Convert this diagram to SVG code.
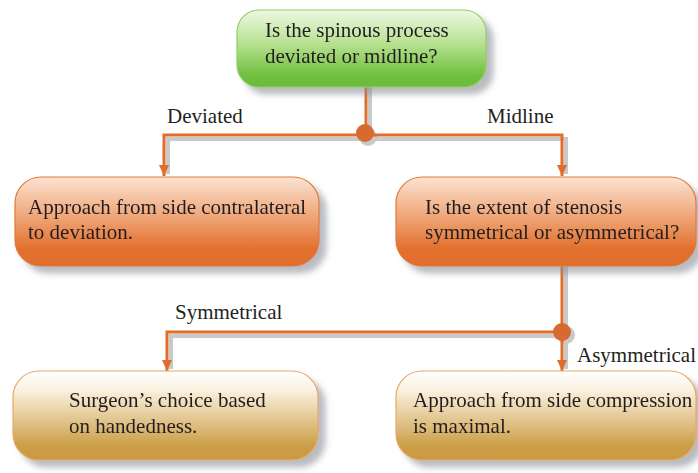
<svg xmlns="http://www.w3.org/2000/svg" width="698" height="473" viewBox="0 0 698 473">
<defs>
<linearGradient id="gGreen" x1="0" y1="0" x2="0" y2="1">
<stop offset="0" stop-color="#eef8e4"/>
<stop offset="0.45" stop-color="#b5e08e"/>
<stop offset="0.85" stop-color="#70bf40"/>
<stop offset="1" stop-color="#6bbb3a"/>
</linearGradient>
<linearGradient id="gOrange" x1="0" y1="0" x2="0" y2="1">
<stop offset="0" stop-color="#fbe3d2"/>
<stop offset="0.45" stop-color="#efa577"/>
<stop offset="0.8" stop-color="#e2712f"/>
<stop offset="1" stop-color="#e06d2c"/>
</linearGradient>
<linearGradient id="gGold" x1="0" y1="0" x2="0" y2="1">
<stop offset="0" stop-color="#ffffff"/>
<stop offset="0.2" stop-color="#fbf3e2"/>
<stop offset="0.55" stop-color="#e2c58e"/>
<stop offset="0.85" stop-color="#cb9d45"/>
<stop offset="1" stop-color="#c99a42"/>
</linearGradient>
<filter id="shadow" x="-10%" y="-10%" width="125%" height="135%">
<feGaussianBlur in="SourceAlpha" stdDeviation="3"/>
<feOffset dx="7" dy="7" result="b"/>
<feFlood flood-color="#8a8f96" flood-opacity="0.6"/>
<feComposite in2="b" operator="in" result="s"/>
<feMerge><feMergeNode in="s"/><feMergeNode in="SourceGraphic"/></feMerge>
</filter>
<marker id="arrow" markerUnits="userSpaceOnUse" markerWidth="12" markerHeight="10" refX="11" refY="5" orient="auto" viewBox="0 0 12 10">
<path d="M0,0 L11,5 L0,10 Z" fill="#df6d2b"/>
</marker>
<marker id="arrowS" markerUnits="userSpaceOnUse" markerWidth="12" markerHeight="10" refX="11" refY="5" orient="auto" viewBox="0 0 12 10">
<path d="M0,0 L11,5 L0,10 Z" fill="#c9c9c9"/>
</marker>
</defs>
<style>
text { font-family: "Liberation Serif", "Times New Roman", serif; font-size: 21px; fill: #231f20; }
.box { stroke-width: 1.2; }
.green { fill: url(#gGreen); stroke: #8fcf62; }
.orange { fill: url(#gOrange); stroke: #e07a3a; }
.gold { fill: url(#gGold); stroke: #eba767; }
.conn { fill: none; stroke: #df6d2b; stroke-width: 3; }
.connS { fill: none; stroke: #c9c9c9; stroke-width: 4; }
.dot { fill: #d66a30; }
.dotS { fill: #c9c9c9; }
</style>

<g id="connectors">
  <g id="connector-shadows">
    <path class="connS" d="M370 87 V137 M369 139 H168 V174"/>
    <path class="connS" d="M369 139 H566 V174"/>
    <path class="connS" d="M566 266 V336 M566 336 H171 V369"/>
    <path class="connS" d="M566 336 V369"/>
    <circle class="dotS" cx="368" cy="137" r="9"/>
    <circle class="dotS" cx="566" cy="335" r="9"/>
  </g>
  <path class="conn" d="M366 87 V134"/>
  <path class="conn" d="M365 135 H164 V176" marker-end="url(#arrow)"/>
  <path class="conn" d="M365 135 H562 V176" marker-end="url(#arrow)"/>
  <path class="conn" d="M562 266 V332"/>
  <path class="conn" d="M562 332 H167 V371" marker-end="url(#arrow)"/>
  <path class="conn" d="M562 332 V371" marker-end="url(#arrow)"/>
  <circle class="dot" cx="365" cy="133" r="9"/>
  <circle class="dot" cx="562" cy="332" r="9"/>
  <text x="167" y="123">Deviated</text>
  <text x="487" y="123">Midline</text>
  <text x="175" y="319">Symmetrical</text>
  <text x="577" y="362">Asymmetrical</text>
</g>

<g id="node-start" filter="url(#shadow)">
  <rect class="box green" x="237" y="10" width="249" height="77" rx="22"/>
  <text x="265" y="37">Is the spinous process</text>
  <text x="265" y="63">deviated or midline?</text>
</g>

<g id="node-deviated" filter="url(#shadow)">
  <rect class="box orange" x="15" y="177" width="304" height="89" rx="26"/>
  <text x="28" y="214">Approach from side contralateral</text>
  <text x="28" y="239">to deviation.</text>
</g>

<g id="node-midline" filter="url(#shadow)">
  <rect class="box orange" x="396" y="177" width="300" height="89" rx="26"/>
  <text x="425" y="214">Is the extent of stenosis</text>
  <text x="425" y="239">symmetrical or asymmetrical?</text>
</g>

<g id="node-symmetrical" filter="url(#shadow)">
  <rect class="box gold" x="13" y="371" width="305" height="89" rx="26"/>
  <text x="69" y="407">Surgeon’s choice based</text>
  <text x="69" y="433">on handedness.</text>
</g>

<g id="node-asymmetrical" filter="url(#shadow)">
  <rect class="box gold" x="396" y="371" width="300" height="89" rx="26"/>
  <text x="413" y="407">Approach from side compression</text>
  <text x="413" y="433">is maximal.</text>
</g>
</svg>
